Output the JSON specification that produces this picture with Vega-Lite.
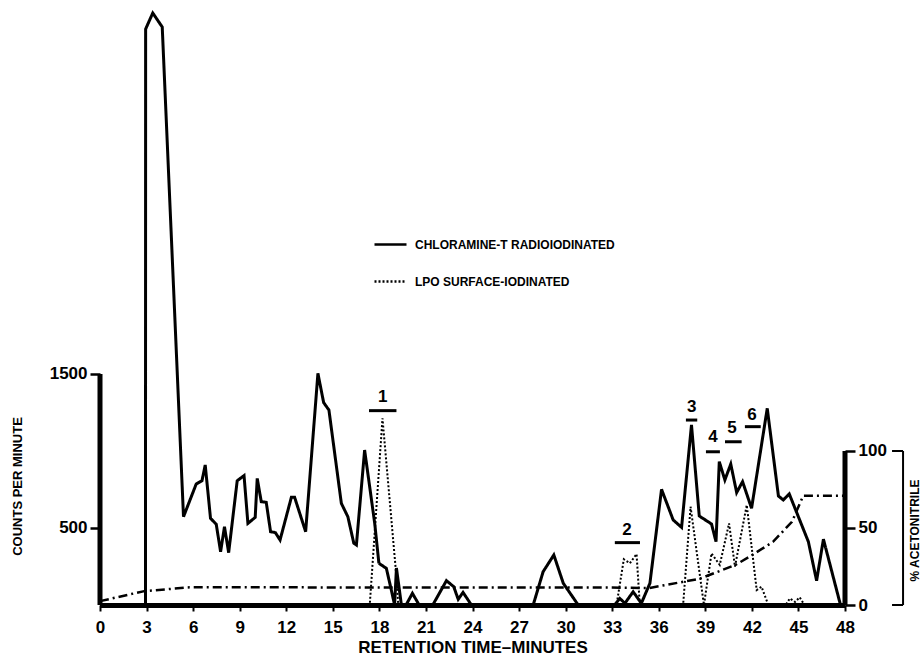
{
  "$schema": "https://vega.github.io/schema/vega-lite/v6.json",
  "width": 745,
  "height": 600,
  "autosize": {"type": "none"},
  "padding": {"left": 100, "top": 5, "right": 77, "bottom": 51},
  "background": "white",
  "config": {
    "view": {"stroke": null},
    "axis": {
      "grid": false,
      "labelFont": "Liberation Sans",
      "labelFontWeight": "bold",
      "labelFontSize": 17,
      "labelColor": "black",
      "titleFont": "Liberation Sans",
      "titleFontWeight": "bold",
      "titleColor": "black",
      "tickColor": "black",
      "domainColor": "black",
      "labelFlush": false,
      "labelOverlap": false
    }
  },
  "datasets": {
    "chlor": [
      {"series": "CHLORAMINE-T RADIOIODINATED", "t": 0, "cpm": 0},
      {"series": "CHLORAMINE-T RADIOIODINATED", "t": 2.93, "cpm": 0},
      {"series": "CHLORAMINE-T RADIOIODINATED", "t": 2.94, "cpm": 3740},
      {"series": "CHLORAMINE-T RADIOIODINATED", "t": 3.40, "cpm": 3844},
      {"series": "CHLORAMINE-T RADIOIODINATED", "t": 4.01, "cpm": 3753},
      {"series": "CHLORAMINE-T RADIOIODINATED", "t": 5.38, "cpm": 573},
      {"series": "CHLORAMINE-T RADIOIODINATED", "t": 6.20, "cpm": 786},
      {"series": "CHLORAMINE-T RADIOIODINATED", "t": 6.57, "cpm": 807},
      {"series": "CHLORAMINE-T RADIOIODINATED", "t": 6.78, "cpm": 909},
      {"series": "CHLORAMINE-T RADIOIODINATED", "t": 7.12, "cpm": 563},
      {"series": "CHLORAMINE-T RADIOIODINATED", "t": 7.49, "cpm": 524},
      {"series": "CHLORAMINE-T RADIOIODINATED", "t": 7.77, "cpm": 346},
      {"series": "CHLORAMINE-T RADIOIODINATED", "t": 8.02, "cpm": 508},
      {"series": "CHLORAMINE-T RADIOIODINATED", "t": 8.29, "cpm": 340},
      {"series": "CHLORAMINE-T RADIOIODINATED", "t": 8.84, "cpm": 807},
      {"series": "CHLORAMINE-T RADIOIODINATED", "t": 9.28, "cpm": 840},
      {"series": "CHLORAMINE-T RADIOIODINATED", "t": 9.53, "cpm": 530},
      {"series": "CHLORAMINE-T RADIOIODINATED", "t": 10.00, "cpm": 569},
      {"series": "CHLORAMINE-T RADIOIODINATED", "t": 10.13, "cpm": 822},
      {"series": "CHLORAMINE-T RADIOIODINATED", "t": 10.39, "cpm": 671},
      {"series": "CHLORAMINE-T RADIOIODINATED", "t": 10.71, "cpm": 667},
      {"series": "CHLORAMINE-T RADIOIODINATED", "t": 10.99, "cpm": 476},
      {"series": "CHLORAMINE-T RADIOIODINATED", "t": 11.30, "cpm": 470},
      {"series": "CHLORAMINE-T RADIOIODINATED", "t": 11.60, "cpm": 422},
      {"series": "CHLORAMINE-T RADIOIODINATED", "t": 12.33, "cpm": 699},
      {"series": "CHLORAMINE-T RADIOIODINATED", "t": 12.54, "cpm": 699},
      {"series": "CHLORAMINE-T RADIOIODINATED", "t": 13.25, "cpm": 476},
      {"series": "CHLORAMINE-T RADIOIODINATED", "t": 14.04, "cpm": 1504},
      {"series": "CHLORAMINE-T RADIOIODINATED", "t": 14.41, "cpm": 1314},
      {"series": "CHLORAMINE-T RADIOIODINATED", "t": 14.75, "cpm": 1266},
      {"series": "CHLORAMINE-T RADIOIODINATED", "t": 15.55, "cpm": 660},
      {"series": "CHLORAMINE-T RADIOIODINATED", "t": 15.97, "cpm": 573},
      {"series": "CHLORAMINE-T RADIOIODINATED", "t": 16.35, "cpm": 402},
      {"series": "CHLORAMINE-T RADIOIODINATED", "t": 16.52, "cpm": 390},
      {"series": "CHLORAMINE-T RADIOIODINATED", "t": 17.05, "cpm": 1006},
      {"series": "CHLORAMINE-T RADIOIODINATED", "t": 17.70, "cpm": 530},
      {"series": "CHLORAMINE-T RADIOIODINATED", "t": 17.97, "cpm": 271},
      {"series": "CHLORAMINE-T RADIOIODINATED", "t": 18.45, "cpm": 238},
      {"series": "CHLORAMINE-T RADIOIODINATED", "t": 18.77, "cpm": 97},
      {"series": "CHLORAMINE-T RADIOIODINATED", "t": 18.98, "cpm": 0},
      {"series": "CHLORAMINE-T RADIOIODINATED", "t": 19.10, "cpm": 240},
      {"series": "CHLORAMINE-T RADIOIODINATED", "t": 19.42, "cpm": 0},
      {"series": "CHLORAMINE-T RADIOIODINATED", "t": 19.72, "cpm": 0},
      {"series": "CHLORAMINE-T RADIOIODINATED", "t": 20.13, "cpm": 76},
      {"series": "CHLORAMINE-T RADIOIODINATED", "t": 20.56, "cpm": 0},
      {"series": "CHLORAMINE-T RADIOIODINATED", "t": 21.44, "cpm": 0},
      {"series": "CHLORAMINE-T RADIOIODINATED", "t": 22.32, "cpm": 158},
      {"series": "CHLORAMINE-T RADIOIODINATED", "t": 22.79, "cpm": 119},
      {"series": "CHLORAMINE-T RADIOIODINATED", "t": 23.08, "cpm": 37},
      {"series": "CHLORAMINE-T RADIOIODINATED", "t": 23.39, "cpm": 82},
      {"series": "CHLORAMINE-T RADIOIODINATED", "t": 23.93, "cpm": 0},
      {"series": "CHLORAMINE-T RADIOIODINATED", "t": 27.91, "cpm": 0},
      {"series": "CHLORAMINE-T RADIOIODINATED", "t": 28.55, "cpm": 216},
      {"series": "CHLORAMINE-T RADIOIODINATED", "t": 29.24, "cpm": 325},
      {"series": "CHLORAMINE-T RADIOIODINATED", "t": 29.85, "cpm": 141},
      {"series": "CHLORAMINE-T RADIOIODINATED", "t": 30.81, "cpm": 0},
      {"series": "CHLORAMINE-T RADIOIODINATED", "t": 33.16, "cpm": 0},
      {"series": "CHLORAMINE-T RADIOIODINATED", "t": 33.49, "cpm": 43},
      {"series": "CHLORAMINE-T RADIOIODINATED", "t": 33.82, "cpm": 11},
      {"series": "CHLORAMINE-T RADIOIODINATED", "t": 34.35, "cpm": 86},
      {"series": "CHLORAMINE-T RADIOIODINATED", "t": 34.88, "cpm": 11},
      {"series": "CHLORAMINE-T RADIOIODINATED", "t": 35.43, "cpm": 141},
      {"series": "CHLORAMINE-T RADIOIODINATED", "t": 36.18, "cpm": 751},
      {"series": "CHLORAMINE-T RADIOIODINATED", "t": 36.93, "cpm": 552},
      {"series": "CHLORAMINE-T RADIOIODINATED", "t": 37.47, "cpm": 504},
      {"series": "CHLORAMINE-T RADIOIODINATED", "t": 38.11, "cpm": 1169},
      {"series": "CHLORAMINE-T RADIOIODINATED", "t": 38.61, "cpm": 578},
      {"series": "CHLORAMINE-T RADIOIODINATED", "t": 39.40, "cpm": 526},
      {"series": "CHLORAMINE-T RADIOIODINATED", "t": 39.69, "cpm": 411},
      {"series": "CHLORAMINE-T RADIOIODINATED", "t": 39.90, "cpm": 931},
      {"series": "CHLORAMINE-T RADIOIODINATED", "t": 40.26, "cpm": 812},
      {"series": "CHLORAMINE-T RADIOIODINATED", "t": 40.64, "cpm": 915},
      {"series": "CHLORAMINE-T RADIOIODINATED", "t": 41.02, "cpm": 730},
      {"series": "CHLORAMINE-T RADIOIODINATED", "t": 41.40, "cpm": 801},
      {"series": "CHLORAMINE-T RADIOIODINATED", "t": 41.98, "cpm": 628},
      {"series": "CHLORAMINE-T RADIOIODINATED", "t": 42.99, "cpm": 1277},
      {"series": "CHLORAMINE-T RADIOIODINATED", "t": 43.71, "cpm": 708},
      {"series": "CHLORAMINE-T RADIOIODINATED", "t": 44.02, "cpm": 682},
      {"series": "CHLORAMINE-T RADIOIODINATED", "t": 44.41, "cpm": 721},
      {"series": "CHLORAMINE-T RADIOIODINATED", "t": 45.64, "cpm": 411},
      {"series": "CHLORAMINE-T RADIOIODINATED", "t": 46.17, "cpm": 158},
      {"series": "CHLORAMINE-T RADIOIODINATED", "t": 46.61, "cpm": 427},
      {"series": "CHLORAMINE-T RADIOIODINATED", "t": 47.71, "cpm": 0},
      {"series": "CHLORAMINE-T RADIOIODINATED", "t": 48, "cpm": 0}
    ],
    "lpo": [
      {"series": "LPO SURFACE-IODINATED", "t": 0, "cpm": 0},
      {"series": "LPO SURFACE-IODINATED", "t": 17.38, "cpm": 0},
      {"series": "LPO SURFACE-IODINATED", "t": 18.20, "cpm": 1212},
      {"series": "LPO SURFACE-IODINATED", "t": 19.04, "cpm": 249},
      {"series": "LPO SURFACE-IODINATED", "t": 19.22, "cpm": 0},
      {"series": "LPO SURFACE-IODINATED", "t": 33.28, "cpm": 0},
      {"series": "LPO SURFACE-IODINATED", "t": 33.75, "cpm": 297},
      {"series": "LPO SURFACE-IODINATED", "t": 34.14, "cpm": 271},
      {"series": "LPO SURFACE-IODINATED", "t": 34.57, "cpm": 331},
      {"series": "LPO SURFACE-IODINATED", "t": 34.78, "cpm": 0},
      {"series": "LPO SURFACE-IODINATED", "t": 37.57, "cpm": 0},
      {"series": "LPO SURFACE-IODINATED", "t": 38.05, "cpm": 638},
      {"series": "LPO SURFACE-IODINATED", "t": 38.91, "cpm": 0},
      {"series": "LPO SURFACE-IODINATED", "t": 39.40, "cpm": 335},
      {"series": "LPO SURFACE-IODINATED", "t": 39.93, "cpm": 260},
      {"series": "LPO SURFACE-IODINATED", "t": 40.53, "cpm": 530},
      {"series": "LPO SURFACE-IODINATED", "t": 40.91, "cpm": 249},
      {"series": "LPO SURFACE-IODINATED", "t": 41.67, "cpm": 649},
      {"series": "LPO SURFACE-IODINATED", "t": 42.31, "cpm": 97},
      {"series": "LPO SURFACE-IODINATED", "t": 42.62, "cpm": 119},
      {"series": "LPO SURFACE-IODINATED", "t": 43.06, "cpm": 0},
      {"series": "LPO SURFACE-IODINATED", "t": 44.17, "cpm": 0},
      {"series": "LPO SURFACE-IODINATED", "t": 44.45, "cpm": 43},
      {"series": "LPO SURFACE-IODINATED", "t": 44.78, "cpm": 20},
      {"series": "LPO SURFACE-IODINATED", "t": 45.08, "cpm": 50},
      {"series": "LPO SURFACE-IODINATED", "t": 45.39, "cpm": 0},
      {"series": "LPO SURFACE-IODINATED", "t": 48, "cpm": 0}
    ],
    "grad": [
      {"t": 0, "pct": 2.5},
      {"t": 2.85, "pct": 9},
      {"t": 5.78, "pct": 11.5},
      {"t": 32.86, "pct": 11.3},
      {"t": 35.38, "pct": 11},
      {"t": 38.62, "pct": 17},
      {"t": 40.94, "pct": 26},
      {"t": 41.95, "pct": 32},
      {"t": 43.36, "pct": 41},
      {"t": 44.58, "pct": 54},
      {"t": 45.31, "pct": 71},
      {"t": 48, "pct": 71}
    ],
    "peaks": [
      {"label": "1", "t": 17.33, "t2": 19.10, "cpm": 1262, "tl": 18.21, "cl": 1353},
      {"label": "2", "t": 33.17, "t2": 34.79, "cpm": 405, "tl": 33.95, "cl": 487},
      {"label": "3", "t": 37.75, "t2": 38.48, "cpm": 1201, "tl": 38.12, "cl": 1288},
      {"label": "4", "t": 39.04, "t2": 39.94, "cpm": 995, "tl": 39.49, "cl": 1093},
      {"label": "5", "t": 40.27, "t2": 41.34, "cpm": 1060, "tl": 40.72, "cl": 1150},
      {"label": "6", "t": 41.55, "t2": 42.57, "cpm": 1158, "tl": 42.01, "cl": 1234}
    ],
    "leftaxis": [{"t": 0, "cpm": 0, "cpm2": 1500}],
    "rightaxis": [{"t": 48, "pct": 0, "pct2": 100}],
    "bracket": [{"t": 51.74, "pct": 0, "pct2": 100}],
    "bracketends": [
      {"t": 51.03, "t2": 51.74, "pct": 0},
      {"t": 51.03, "t2": 51.74, "pct": 100}
    ]
  },
  "layer": [
    {
      "layer": [
        {
          "data": {"name": "chlor"},
          "mark": {"type": "line", "color": "black", "strokeWidth": 3, "strokeJoin": "miter"},
          "encoding": {
            "x": {
              "field": "t", "type": "quantitative",
              "scale": {"domain": [0, 48], "nice": false, "zero": false},
              "axis": {
                "values": [0, 3, 6, 9, 12, 15, 18, 21, 24, 27, 30, 33, 36, 39, 42, 45, 48],
                "tickSize": 6, "tickWidth": 2, "domainWidth": 5,
                "labelPadding": 8,
                "title": "RETENTION TIME–MINUTES",
                "titleFontSize": 17, "titlePadding": 4
              }
            },
            "y": {
              "field": "cpm", "type": "quantitative",
              "scale": {"domain": [0, 3896], "nice": false},
              "axis": {
                "orient": "left", "values": [500, 1500], "format": "d", "domain": false,
                "tickSize": 10, "tickWidth": 2.5, "labelPadding": 3,
                "title": "COUNTS PER MINUTE", "titleFontSize": 13,
                "titleAngle": 270, "titleX": -83, "titleY": 481,
                "titleAlign": "center", "titleBaseline": "middle"
              }
            },
            "strokeDash": {
              "field": "series", "type": "nominal",
              "scale": {"domain": ["CHLORAMINE-T RADIOIODINATED", "LPO SURFACE-IODINATED"], "range": [[1, 0], [2, 2]]},
              "legend": {
                "title": null, "orient": "none", "legendX": 273, "legendY": 222,
                "symbolType": "stroke", "symbolSize": 1024, "symbolStrokeWidth": 2.5,
                "symbolStrokeColor": "black",
                "labelFont": "Liberation Sans", "labelFontWeight": "bold",
                "labelFontSize": 12, "labelColor": "black", "labelOffset": 7,
                "labelLimit": 400, "rowPadding": 13, "padding": 0
              }
            }
          }
        },
        {
          "data": {"name": "lpo"},
          "mark": {"type": "line", "color": "black", "strokeWidth": 2},
          "encoding": {
            "x": {"field": "t", "type": "quantitative"},
            "y": {"field": "cpm", "type": "quantitative"},
            "strokeDash": {"field": "series", "type": "nominal"}
          }
        },
        {
          "data": {"name": "leftaxis"},
          "mark": {"type": "rule", "color": "black", "strokeWidth": 5},
          "encoding": {
            "x": {"field": "t", "type": "quantitative"},
            "y": {"field": "cpm", "type": "quantitative"},
            "y2": {"field": "cpm2"}
          }
        },
        {
          "data": {"name": "peaks"},
          "mark": {"type": "rule", "color": "black", "strokeWidth": 3},
          "encoding": {
            "x": {"field": "t", "type": "quantitative"},
            "x2": {"field": "t2"},
            "y": {"field": "cpm", "type": "quantitative"}
          }
        },
        {
          "data": {"name": "peaks"},
          "mark": {"type": "text", "color": "black", "font": "Liberation Sans", "fontWeight": "bold", "fontSize": 17, "align": "center", "baseline": "middle"},
          "encoding": {
            "x": {"field": "tl", "type": "quantitative"},
            "y": {"field": "cl", "type": "quantitative"},
            "text": {"field": "label"}
          }
        }
      ]
    },
    {
      "layer": [
        {
          "data": {"name": "grad"},
          "mark": {"type": "line", "color": "black", "strokeWidth": 2.5, "strokeDash": [9, 4, 2, 4]},
          "encoding": {
            "x": {"field": "t", "type": "quantitative"},
            "y": {
              "field": "pct", "type": "quantitative",
              "scale": {"domain": [0, 389.6], "nice": false},
              "axis": {
                "orient": "right", "values": [0, 50, 100], "domain": false,
                "tickSize": 10, "tickWidth": 2.5, "labelPadding": 3,
                "title": "% ACETONITRILE", "titleFontSize": 12,
                "titleAngle": 270, "titleX": 69, "titleY": 525,
                "titleAlign": "center", "titleBaseline": "middle"
              }
            }
          }
        },
        {
          "data": {"name": "rightaxis"},
          "mark": {"type": "rule", "color": "black", "strokeWidth": 5},
          "encoding": {
            "x": {"field": "t", "type": "quantitative"},
            "y": {"field": "pct", "type": "quantitative"},
            "y2": {"field": "pct2"}
          }
        },
        {
          "data": {"name": "bracket"},
          "mark": {"type": "rule", "color": "black", "strokeWidth": 2},
          "encoding": {
            "x": {"field": "t", "type": "quantitative"},
            "y": {"field": "pct", "type": "quantitative"},
            "y2": {"field": "pct2"}
          }
        },
        {
          "data": {"name": "bracketends"},
          "mark": {"type": "rule", "color": "black", "strokeWidth": 2},
          "encoding": {
            "x": {"field": "t", "type": "quantitative"},
            "x2": {"field": "t2"},
            "y": {"field": "pct", "type": "quantitative"}
          }
        }
      ]
    }
  ],
  "resolve": {"scale": {"y": "independent"}}
}
